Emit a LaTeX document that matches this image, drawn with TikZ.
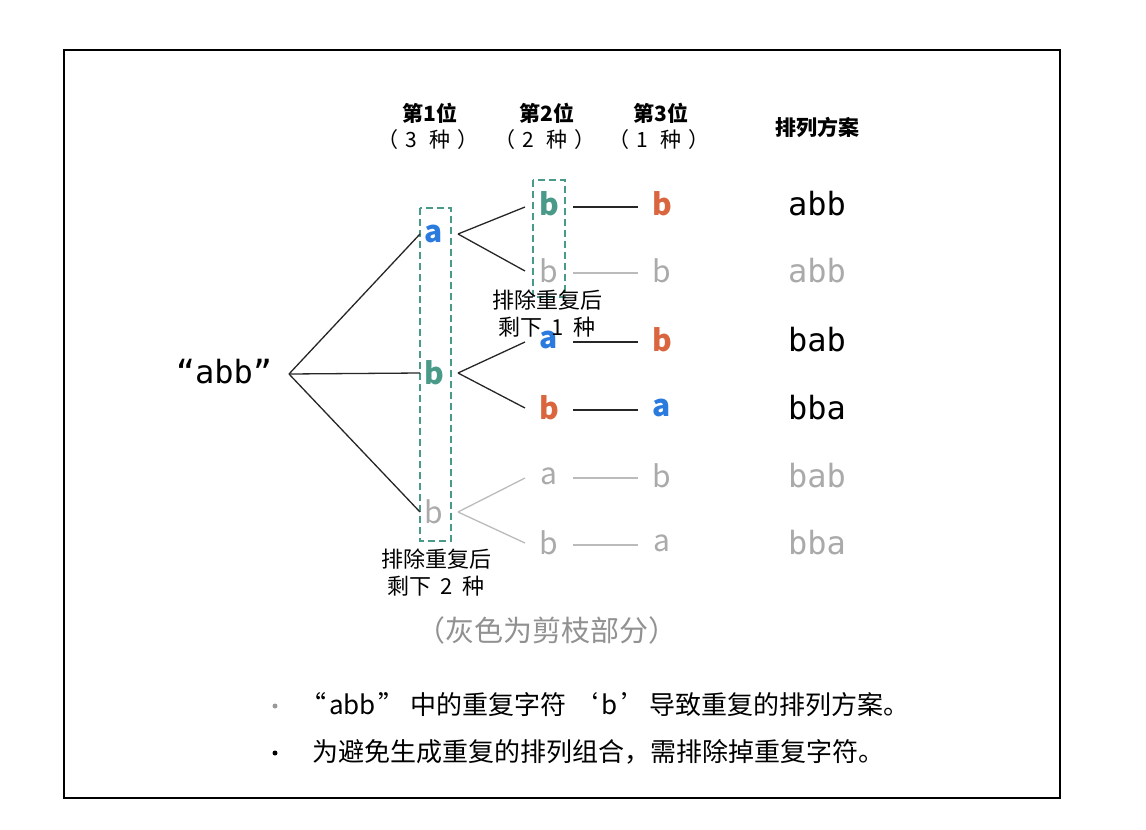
\documentclass[tikz,border=0pt]{standalone}
\usepackage{fontspec}
\setmainfont{Noto Sans CJK SC}
\newfontfamily\monof{DejaVu Sans Mono}
\usetikzlibrary{calc}
\definecolor{cblue}{HTML}{2B7BDE}
\definecolor{cteal}{HTML}{4A9A8A}
\definecolor{corange}{HTML}{D9663F}
\definecolor{cgray}{HTML}{AAAAAA}
\begin{document}
\begin{tikzpicture}[x=1pt,y=-1pt,
  lt/.style={font=\fontsize{30}{32}\selectfont\bfseries, inner sep=0pt, anchor=center},
  gl/.style={font=\fontsize{30}{32}\selectfont, text=cgray, inner sep=0pt, anchor=center},
  res/.style={font=\monof\fontsize{32}{34}\selectfont, inner sep=0pt},
  hdr/.style={font=\fontsize{21}{23}\selectfont\bfseries, inner sep=0pt},
  sub/.style={font=\fontsize{21}{23}\selectfont, inner sep=0pt},
  note/.style={font=\fontsize{22}{27}\selectfont, inner sep=0pt, align=center},
  btxt/.style={anchor=west, font=\fontsize{26}{28}\selectfont, inner sep=0pt},
  edge/.style={line width=1.3pt, draw=black!85},
  gedge/.style={line width=1.3pt, draw=cgray!80},
  dbox/.style={draw=cteal, line width=1.5pt, dash pattern=on 7pt off 4pt}]
\useasboundingbox (0,0) rectangle (1146,830);
\draw[line width=2pt] (64,50) rectangle (1060,798);
% headers
\node[hdr] (h1) at (430,113) {第1位};
\node[sub] (s1) at (428,140) {（\hspace{7pt}3\hspace{12pt}种\hspace{7pt}）};
\node[hdr] (h2) at (547,113) {第2位};
\node[sub] (s2) at (545,140) {（\hspace{7pt}2\hspace{12pt}种\hspace{7pt}）};
\node[hdr] (h3) at (661,113) {第3位};
\node[sub] (s3) at (659,140) {（\hspace{7pt}1\hspace{12pt}种\hspace{7pt}）};
\node[hdr] (h4) at (817,127) {排列方案};
% root
\node[res] (root) at (224,372) {“abb”};
% level 1
\node[lt,text=cblue] (l1a) at (434,234) {a};
\node[lt,text=cteal] (l1b) at (434,373) {b};
\node[gl] (l1c) at (434,512) {b};
% level 2
\node[lt,text=cteal] (l2a) at (549,204) {b};
\node[gl] (l2b) at (549,271) {b};
\node[lt,text=cblue] (l2c) at (549,340) {a};
\node[lt,text=corange] (l2d) at (549,408) {b};
\node[gl] (l2e) at (549,476) {a};
\node[gl] (l2f) at (549,543) {b};
% level 3
\node[lt,text=corange] (l3a) at (662,204) {b};
\node[gl] (l3b) at (662,271) {b};
\node[lt,text=corange] (l3c) at (662,340) {b};
\node[lt,text=cblue] (l3d) at (662,408) {a};
\node[gl] (l3e) at (662,476) {b};
\node[gl] (l3f) at (662,543) {a};
% results
\node[res] (r1) at (817,204) {abb};
\node[res,text=cgray] (r2) at (817,271) {abb};
\node[res] (r3) at (817,340) {bab};
\node[res] (r4) at (817,408) {bba};
\node[res,text=cgray] (r5) at (817,476) {bab};
\node[res,text=cgray] (r6) at (817,543) {bba};
% dashed boxes
\draw[dbox] (420,208) rectangle (451,541);
\draw[dbox] (533,180) rectangle (565,297);
% edges root
\coordinate (rs) at ($(root)+(65,2)$);
\draw[edge] (rs) -- ($(l1a)+(-14,0)$);
\draw[edge] (rs) -- ($(l1b)+(-14,0)$);
\draw[edge] (rs) -- ($(l1c)+(-14,0)$);
% level1 -> level2
\draw[edge] ($(l1a)+(24,0)$) -- ($(l2a)+(-24,3)$);
\draw[edge] ($(l1a)+(24,0)$) -- ($(l2b)+(-24,0)$);
\draw[edge] ($(l1b)+(24,0)$) -- ($(l2c)+(-24,2)$);
\draw[edge] ($(l1b)+(24,0)$) -- ($(l2d)+(-24,0)$);
\draw[gedge] ($(l1c)+(24,0)$) -- ($(l2e)+(-24,2)$);
\draw[gedge] ($(l1c)+(24,0)$) -- ($(l2f)+(-24,0)$);
% level2 -> level3
\draw[edge] ($(l2a)+(24,3)$) -- ($(l3a)+(-24,3)$);
\draw[gedge] ($(l2b)+(24,2)$) -- ($(l3b)+(-24,2)$);
\draw[edge] ($(l2c)+(24,2)$) -- ($(l3c)+(-24,2)$);
\draw[edge] ($(l2d)+(24,2)$) -- ($(l3d)+(-24,2)$);
\draw[gedge] ($(l2e)+(24,2)$) -- ($(l3e)+(-24,2)$);
\draw[gedge] ($(l2f)+(24,2)$) -- ($(l3f)+(-24,2)$);
% notes
\node[note] (n1) at (547,314) {排除重复后\\剩下\ \ 1\ \ 种};
\node[note] (n2) at (436,573) {排除重复后\\剩下\ \ 2\ \ 种};
\node[font=\fontsize{29}{31}\selectfont, text=cgray!85!black, inner sep=0pt] (cap) at (547,630) {（灰色为剪枝部分）};
% bullets
\node[circle, fill=cgray!90!black, inner sep=0pt, minimum size=5pt] (b1) at (275,706) {};
\node[btxt] (t1) at (300,705) {“\hspace{3pt}abb\hspace{3pt}”\hspace{6pt}中的重复字符\hspace{6pt}‘\hspace{3pt}b\hspace{3pt}’\hspace{2pt}导致重复的排列方案。};
\node[circle, fill=black, inner sep=0pt, minimum size=5pt] (b2) at (275,753) {};
\node[btxt] (t2) at (312,752) {为避免生成重复的排列组合，需排除掉重复字符。};
\end{tikzpicture}
\end{document}
